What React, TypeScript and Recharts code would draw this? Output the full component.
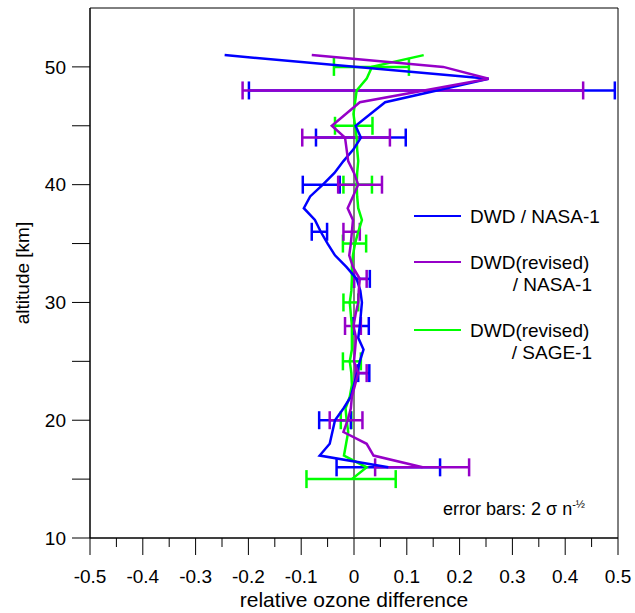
import {
  ScatterChart, Scatter, XAxis, YAxis, ErrorBar, ReferenceLine, ReferenceArea, Legend
} from 'recharts'

const FONT = '"Liberation Sans", Arial, Helvetica, sans-serif'
const BLUE = '#0000ff'
const PURPLE = '#9600c8'
const GREEN = '#00ff00'

// DWD / NASA-1
const nasaAlt = [51, 49, 47, 45, 44, 43, 42, 41, 40, 39, 38, 37, 36, 35, 34, 33, 32, 31, 30, 29, 28, 27, 26, 25, 24, 23, 22, 21, 20, 19, 18, 17, 16]
const nasaDiff = [-0.245, 0.255, 0.059, 0.003, 0.013, -0.001, -0.02, -0.037, -0.059, -0.083, -0.095, -0.074, -0.063, -0.05, -0.036, -0.014, 0.005, 0.012, 0.015, 0.013, 0.011, 0.008, 0.018, 0.011, 0.006, 0.0, -0.006, -0.02, -0.036, -0.041, -0.046, -0.065, 0.065]

// DWD(revised) / NASA-1
const revAlt = [51, 50, 49, 47, 45, 44, 43, 42, 41, 40, 39, 38, 37, 36, 35, 34, 33, 32, 31, 30, 29, 28, 27, 26, 25, 24, 23, 22, 21, 20, 19, 18, 17, 16]
const revDiff = [-0.08, 0.169, 0.255, 0.011, -0.042, -0.017, -0.014, -0.011, 0.0, 0.008, -0.002, -0.012, -0.002, -0.004, -0.006, -0.009, -0.002, 0.011, 0.009, 0.008, 0.003, -0.001, 0.004, 0.002, 0.0, 0.008, 0.002, -0.004, -0.006, -0.012, -0.02, 0.024, 0.037, 0.13]

// DWD(revised) / SAGE-1
const sageAlt = [51, 50, 49, 48, 47, 46, 45, 44, 43, 42, 41, 40, 39, 38, 37, 36, 35, 34, 33, 32, 31, 30, 29, 28, 27, 26, 25, 24, 23, 22, 21, 20, 19, 18, 17, 16, 15]
const sageDiff = [0.132, 0.034, 0.024, 0.005, 0.002, -0.001, 0.002, 0.005, 0.006, 0.008, 0.006, 0.005, 0.006, 0.008, 0.015, 0.008, 0.002, -0.002, -0.004, -0.004, -0.005, -0.008, -0.006, -0.004, -0.004, -0.004, -0.008, -0.005, -0.004, -0.008, -0.016, -0.014, -0.011, -0.015, -0.019, 0.024, -0.004]

// error bars (2 sigma n^-1/2): altitude, lower and upper end
const errNasaAlt = [48, 44, 40, 36, 32, 28, 24, 20, 16]
const errNasaLo = [-0.199, -0.072, -0.097, -0.08, 0.0, -0.002, 0.008, -0.066, -0.033]
const errNasaHi = [0.494, 0.098, -0.027, -0.051, 0.03, 0.028, 0.029, -0.006, 0.163]

const errRevAlt = [48, 44, 40, 36, 32, 28, 24, 20, 16]
const errRevLo = [-0.211, -0.098, -0.03, -0.02, 0.0, -0.017, 0.003, -0.046, 0.04]
const errRevHi = [0.434, 0.068, 0.053, 0.011, 0.024, 0.013, 0.024, 0.016, 0.218]

const errSageAlt = [50, 45, 40, 35, 30, 25, 20, 15]
const errSageLo = [-0.038, -0.036, -0.02, -0.021, -0.02, -0.021, -0.025, -0.09]
const errSageHi = [0.104, 0.035, 0.034, 0.023, 0.008, 0.013, -0.005, 0.079]

const xMajorTicks = [-0.5, -0.4, -0.3, -0.2, -0.1, 0, 0.1, 0.2, 0.3, 0.4, 0.5]
const xMinorTicks = [-0.45, -0.35, -0.25, -0.15, -0.05, 0.05, 0.15, 0.25, 0.35, 0.45]
const yMajorTicks = [10, 20, 30, 40, 50]
const yMinorTicks = [15, 25, 35, 45]

const xTicks = [...xMajorTicks, ...xMinorTicks].sort((a, b) => a - b)
const yTicks = [...yMajorTicks, ...yMinorTicks].sort((a, b) => a - b)

const profile = (alt: number[], diff: number[]) => alt.map((a, i) => ({ x: diff[i], y: a }))
const bars = (alt: number[], lo: number[], hi: number[]) =>
  alt.map((a, i) => {
    const mid = (lo[i] + hi[i]) / 2
    return { x: mid, y: a, err: [mid - lo[i], hi[i] - mid] }
  })

const noDot = () => <g />

const XTick = ({ x, y, payload }: any) => {
  const major = xMajorTicks.includes(payload.value)
  return (
    <g>
      <line x1={x} y1={y} x2={x} y2={y + (major ? 17 : 9)} stroke="#000" />
      {major && (
        <text x={x} y={y + 45} textAnchor="middle" fontSize={19} fontFamily={FONT} fill="#000">
          {payload.value === 0 ? '0' : payload.value.toFixed(1)}
        </text>
      )}
    </g>
  )
}

const YTick = ({ x, y, payload }: any) => {
  const major = yMajorTicks.includes(payload.value)
  return (
    <g>
      <line x1={x - 18} y1={y} x2={x} y2={y} stroke="#000" />
      {major && (
        <text x={x - 24} y={y} dy="0.35em" textAnchor="end" fontSize={19} fontFamily={FONT} fill="#000">
          {payload.value}
        </text>
      )}
    </g>
  )
}

const renderLegend = ({ payload }: any) => {
  const rows = [0, 46, 114]
  const items = (payload || []).filter((p: any) => p.type !== 'none' && !String(p.value).endsWith('-err'))
  return (
    <svg width={220} height={170} style={{ overflow: 'visible' }}>
      {items.map((p: any, i: number) => {
        const lines = String(p.value).split('\n')
        const top = rows[i] ?? i * 50
        return (
          <g key={i}>
            <line x1={9} x2={56} y1={top + 16} y2={top + 16} stroke={p.color} strokeWidth={2} />
            {lines.map((t, j) => (
              <text
                key={j}
                x={j === 0 ? 65 : 187}
                y={top + 16 + j * 22}
                dy="0.35em"
                textAnchor={j === 0 ? 'start' : 'end'}
                fontSize={19}
                fontFamily={FONT}
                fill="#000"
              >
                {t}
              </text>
            ))}
          </g>
        )
      })}
    </svg>
  )
}

export default function App() {
  return (
    <div style={{ position: 'absolute', left: 0, top: 0, width: 635, height: 613, background: '#fff' }}>
      <ScatterChart width={635} height={613} margin={{ top: 8, right: 17, bottom: 0, left: 0 }}>
        <XAxis
          type="number"
          dataKey="x"
          domain={[-0.5, 0.5]}
          ticks={xTicks}
          interval={0}
          allowDataOverflow
          height={75}
          tickSize={0}
          tickMargin={0}
          tickLine={false}
          axisLine={{ stroke: '#000' }}
          tick={XTick}
          label={{ value: 'relative ozone difference', position: 'insideBottom', offset: 6, fontSize: 21, fontFamily: FONT, fill: '#000' }}
        />
        <YAxis
          type="number"
          dataKey="y"
          domain={[10, 55]}
          ticks={yTicks}
          interval={0}
          allowDataOverflow
          width={90}
          tickSize={0}
          tickMargin={0}
          tickLine={false}
          axisLine={{ stroke: '#000' }}
          tick={YTick}
          label={{
            value: 'altitude [km]', angle: -90, position: 'insideLeft', offset: 22,
            fontSize: 19, fontFamily: FONT, fill: '#000', style: { textAnchor: 'middle' }
          }}
        />
        <ReferenceArea x1={-0.5} x2={0.5} y1={10} y2={55} fill="none" fillOpacity={0} stroke="#000" strokeOpacity={1} />
        <ReferenceLine x={0} stroke="#808080" strokeWidth={2} />

        <Scatter name={'DWD(revised)\n/ SAGE-1'} data={profile(sageAlt, sageDiff)} fill={GREEN}
          line={{ stroke: GREEN, strokeWidth: 2.5 }} shape={noDot} isAnimationActive={false} />
        <Scatter name="sage-err" legendType="none" data={bars(errSageAlt, errSageLo, errSageHi)} fill={GREEN}
          shape={noDot} isAnimationActive={false}>
          <ErrorBar dataKey="err" direction="x" width={9} stroke={GREEN} strokeWidth={2.5} isAnimationActive={false} />
        </Scatter>

        <Scatter name="DWD / NASA-1" data={profile(nasaAlt, nasaDiff)} fill={BLUE}
          line={{ stroke: BLUE, strokeWidth: 2.5 }} shape={noDot} isAnimationActive={false} />
        <Scatter name="nasa-err" legendType="none" data={bars(errNasaAlt, errNasaLo, errNasaHi)} fill={BLUE}
          shape={noDot} isAnimationActive={false}>
          <ErrorBar dataKey="err" direction="x" width={9} stroke={BLUE} strokeWidth={2.5} isAnimationActive={false} />
        </Scatter>

        <Scatter name={'DWD(revised)\n/ NASA-1'} data={profile(revAlt, revDiff)} fill={PURPLE}
          line={{ stroke: PURPLE, strokeWidth: 2.5 }} shape={noDot} isAnimationActive={false} />
        <Scatter name="rev-err" legendType="none" data={bars(errRevAlt, errRevLo, errRevHi)} fill={PURPLE}
          shape={noDot} isAnimationActive={false}>
          <ErrorBar dataKey="err" direction="x" width={9} stroke={PURPLE} strokeWidth={2.5} isAnimationActive={false} />
        </Scatter>

        <Legend
          layout="horizontal"
          verticalAlign="middle"
          align="center"
          content={renderLegend}
          wrapperStyle={{ left: 405, top: 200, width: 220, height: 170 }}
        />
      </ScatterChart>
      <div style={{ position: 'absolute', left: 443, top: 498, fontFamily: FONT, fontSize: 18, color: '#000', whiteSpace: 'nowrap' }}>
        error bars: 2 σ n<sup style={{ fontSize: 11 }}>-½</sup>
      </div>
    </div>
  )
}
